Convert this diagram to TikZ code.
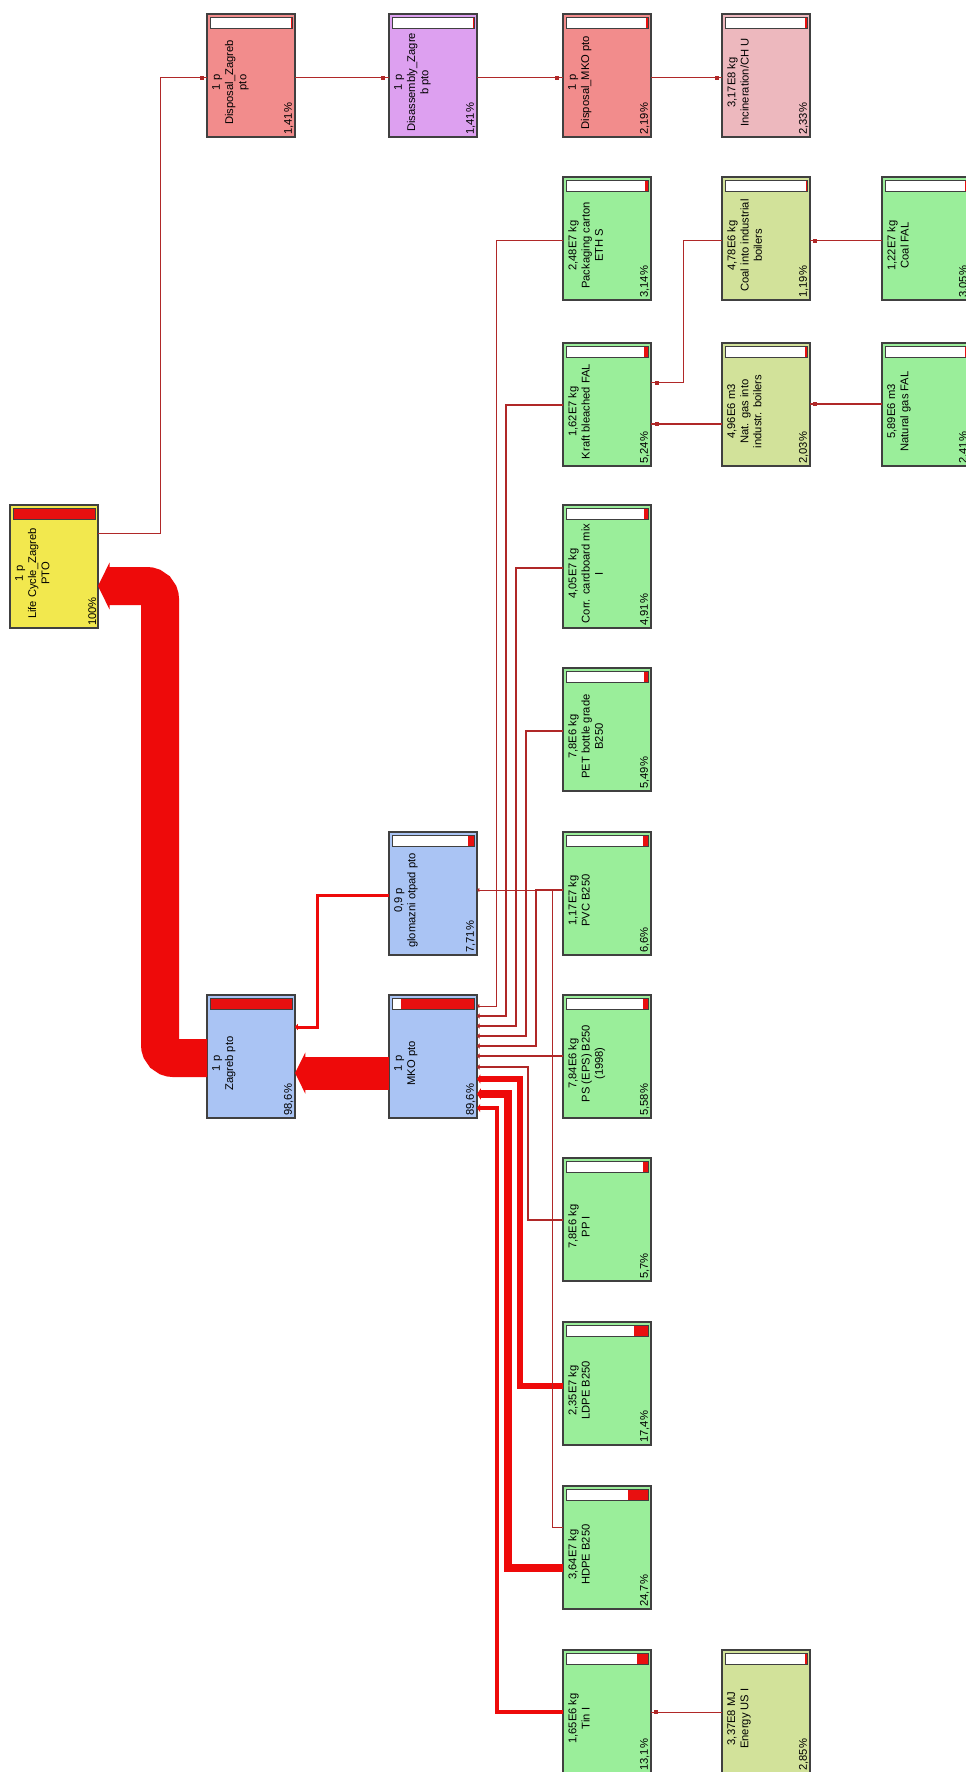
\documentclass[tikz,border=0pt]{standalone}
\usepackage{fontspec}
\setmainfont{Liberation Sans}
\usetikzlibrary{arrows.meta,calc}
\definecolor{cyellow}{HTML}{F2E84E}
\definecolor{cpink}{HTML}{F28C8C}
\definecolor{cpurple}{HTML}{DDA0F0}
\definecolor{clpink}{HTML}{EDB8BE}
\definecolor{cgreen}{HTML}{9AEE9A}
\definecolor{colive}{HTML}{D2E29A}
\definecolor{cblue}{HTML}{AAC4F4}
\definecolor{cborder}{HTML}{404040}
\definecolor{cthin}{HTML}{B02828}
\definecolor{cthick}{HTML}{EE0A0A}
\definecolor{cbarred}{HTML}{E81010}
\tikzset{
  pbox/.style={rectangle, draw=cborder, line width=0.9pt, minimum width=66pt,
    minimum height=92.25pt, anchor=north west, inner sep=0pt, outer sep=0pt},
  nametext/.style={rotate=90, anchor=north, align=center, inner sep=0pt,
    font=\fontsize{8.4}{9.9}\selectfont},
  pcttext/.style={rotate=90, anchor=south west, inner sep=0pt,
    font=\fontsize{8.4}{9.9}\selectfont},
  lnk/.style={draw=cthin, line width=#1, line join=miter},
  lnkt/.style={draw=cthick, line width=#1},
  tipin/.style={-{Triangle[length=1.5pt 0.25, width=2pt 1.15]}},
  dotmark/.style={rectangle, fill=cthin, inner sep=0pt, minimum size=2.6pt}
}
\newcommand{\procbox}[7]{%
  \node[pbox, fill=#4] (#1) at (#2,#3) {};
  \fill[white] ($(#1.north west)+(3,3)$) rectangle ($(#1.north east)+(-3,14)$);
  \fill[cbarred] ($(#1.north east)+({-3-82*#7},3)$) rectangle ($(#1.north east)+(-3,14)$);
  \draw[cborder, line width=0.6pt] ($(#1.north west)+(3,3)$) rectangle ($(#1.north east)+(-3,14)$);
  \node[nametext] at ($(#1.north west)+(5,68.5)$) {#5};
  \node[pcttext] at ($(#1.south east)+(-1.5,-2)$) {#6};
}
\begin{document}
\begin{tikzpicture}[x=0.75pt, y=-0.75pt]
\useasboundingbox (0,0) rectangle (966,1772);
\fill[white] (0,0) rectangle (966,1772);
\clip (0,0) rectangle (966,1772);

\procbox{LC}{10}{505}{cyellow}{1 p\\Life Cycle\_Zagreb\\PTO}{100\%}{1}
\procbox{DispZ}{207}{14}{cpink}{1 p\\Disposal\_Zagreb\\pto}{1,41\%}{0.0141}
\procbox{Disas}{389}{14}{cpurple}{1 p\\Disassembly\_Zagre\\b pto}{1,41\%}{0.0141}
\procbox{DispM}{563}{14}{cpink}{1 p\\Disposal\_MKO pto}{2,19\%}{0.0219}
\procbox{Incin}{722}{14}{clpink}{3,17E8 kg\\Incineration/CH U}{2,33\%}{0.0233}
\procbox{Pack}{563}{177}{cgreen}{2,48E7 kg\\Packaging carton\\ETH S}{3,14\%}{0.0314}
\procbox{CoalI}{722}{177}{colive}{4,78E6 kg\\Coal into industrial\\boilers}{1,19\%}{0.0119}
\procbox{CoalF}{882}{177}{cgreen}{1,22E7 kg\\Coal FAL}{3,05\%}{0.0305}
\procbox{Kraft}{563}{343}{cgreen}{1,62E7 kg\\Kraft bleached FAL}{5,24\%}{0.0524}
\procbox{NatG}{722}{343}{colive}{4,96E6 m3\\Nat. gas into\\industr. boilers}{2,03\%}{0.0203}
\procbox{NatF}{882}{343}{cgreen}{5,89E6 m3\\Natural gas FAL}{2,41\%}{0.0241}
\procbox{Corr}{563}{505}{cgreen}{4,05E7 kg\\Corr. cardboard mix\\I}{4,91\%}{0.0491}
\procbox{PET}{563}{668}{cgreen}{7,8E6 kg\\PET bottle grade\\B250}{5,49\%}{0.0549}
\procbox{Glom}{389}{832}{cblue}{0,9 p\\glomazni otpad pto}{7,71\%}{0.0771}
\procbox{PVC}{563}{832}{cgreen}{1,17E7 kg\\PVC B250}{6,6\%}{0.066}
\procbox{Zag}{207}{995}{cblue}{1 p\\Zagreb pto}{98,6\%}{0.986}
\procbox{MKO}{389}{995}{cblue}{1 p\\MKO pto}{89,6\%}{0.896}
\procbox{PS}{563}{995}{cgreen}{7,84E6 kg\\PS (EPS) B250\\(1998)}{5,58\%}{0.0558}
\procbox{PP}{563}{1158}{cgreen}{7,8E6 kg\\PP I}{5,7\%}{0.057}
\procbox{LDPE}{563}{1322}{cgreen}{2,35E7 kg\\LDPE B250}{17,4\%}{0.174}
\procbox{HDPE}{563}{1486}{cgreen}{3,64E7 kg\\HDPE B250}{24,7\%}{0.247}
\procbox{Tin}{563}{1650}{cgreen}{1,65E6 kg\\Tin I}{13,1\%}{0.131}
\procbox{Ener}{722}{1650}{colive}{3,37E8 MJ\\Energy US I}{2,85\%}{0.0285}

% big flows
\draw[lnkt=28.5pt, rounded corners=10pt, tipin] ($(Zag.north west)+(0,63)$) -| ($(LC.north east)+(62,81)$) -- ($(LC.north east)+(0,81)$);
\draw[lnkt=24.75pt, tipin] ($(MKO.north west)+(0,78)$) -- ($(Zag.north east)+(0,78)$);
\draw[lnkt=2.25pt, tipin] ($(Glom.north west)+(0,63)$) -| ($(Zag.north east)+(22,32)$) -- ($(Zag.north east)+(0,32)$);

% disposal chain
\draw[lnk=0.75pt] ($(LC.north east)+(0,28)$) -| ($(DispZ.north west)+(-47,64)$) -- ($(DispZ.north west)+(0,64)$);
\draw[lnk=0.75pt] ($(DispZ.north east)+(0,64)$) -- ($(Disas.north west)+(0,64)$);
\draw[lnk=0.75pt] ($(Disas.north east)+(0,64)$) -- ($(DispM.north west)+(0,64)$);
\draw[lnk=0.75pt] ($(DispM.north east)+(0,64)$) -- ($(Incin.north west)+(0,64)$);
\node[dotmark] at ($(DispZ.north west)+(-5,64)$) {};
\node[dotmark] at ($(Disas.north west)+(-6,64)$) {};
\node[dotmark] at ($(DispM.north west)+(-6,64)$) {};
\node[dotmark] at ($(Incin.north west)+(-5,64)$) {};

% inputs of MKO
\draw[lnk=0.75pt, tipin] ($(Pack.north west)+(0,64)$) -| ($(MKO.north east)+(19,11)$) -- ($(MKO.north east)+(0,11)$);
\draw[lnk=1.5pt, tipin] ($(Kraft.north west)+(0,62)$) -| ($(MKO.north east)+(29,21)$) -- ($(MKO.north east)+(0,21)$);
\draw[lnk=1.5pt, tipin] ($(Corr.north west)+(0,63)$) -| ($(MKO.north east)+(39,31)$) -- ($(MKO.north east)+(0,31)$);
\draw[lnk=1.5pt, tipin] ($(PET.north west)+(0,63)$) -| ($(MKO.north east)+(49,41)$) -- ($(MKO.north east)+(0,41)$);
\draw[lnk=1.8pt, tipin] ($(PVC.north west)+(0,58)$) -| ($(MKO.north east)+(59,51)$) -- ($(MKO.north east)+(0,51)$);
\draw[lnk=1.5pt, tipin] ($(PS.north west)+(0,61)$) -- ($(MKO.north east)+(0,61)$);
\draw[lnk=1.5pt, tipin] ($(PP.north west)+(0,62)$) -| ($(MKO.north east)+(51,72)$) -- ($(MKO.north east)+(0,72)$);
\draw[lnkt=4.2pt, tipin] ($(LDPE.north west)+(0,64)$) -| ($(MKO.north east)+(43,84)$) -- ($(MKO.north east)+(0,84)$);
\draw[lnkt=5.6pt, tipin] ($(HDPE.north west)+(0,82)$) -| ($(MKO.north east)+(31,99)$) -- ($(MKO.north east)+(0,99)$);
\draw[lnkt=3.6pt, tipin] ($(Tin.north west)+(0,62)$) -| ($(MKO.north east)+(20,113)$) -- ($(MKO.north east)+(0,113)$);

% input of glomazni
\draw[lnk=0.75pt, tipin] ($(HDPE.north west)+(0,41)$) -| ($(Glom.north east)+(75,58)$) -- ($(Glom.north east)+(0,58)$);

% sub-suppliers
\draw[lnk=0.75pt] ($(CoalI.north west)+(0,64)$) -| ($(Kraft.north east)+(32,40)$) -- ($(Kraft.north east)+(0,40)$);
\draw[lnk=1.1pt] ($(NatG.north west)+(0,81)$) -- ($(Kraft.north east)+(0,81)$);
\draw[lnk=0.75pt] ($(CoalF.north west)+(0,64)$) -- ($(CoalI.north east)+(0,64)$);
\draw[lnk=0.75pt] ($(NatF.north west)+(0,61)$) -- ($(NatG.north east)+(0,61)$);
\draw[lnk=0.75pt] ($(Ener.north west)+(0,62)$) -- ($(Tin.north east)+(0,62)$);
\node[dotmark] at ($(Kraft.north east)+(6,40)$) {};
\node[dotmark] at ($(Kraft.north east)+(6,81)$) {};
\node[dotmark] at ($(CoalI.north east)+(5,64)$) {};
\node[dotmark] at ($(NatG.north east)+(5,61)$) {};
\node[dotmark] at ($(Tin.north east)+(5,62)$) {};
\end{tikzpicture}
\end{document}
